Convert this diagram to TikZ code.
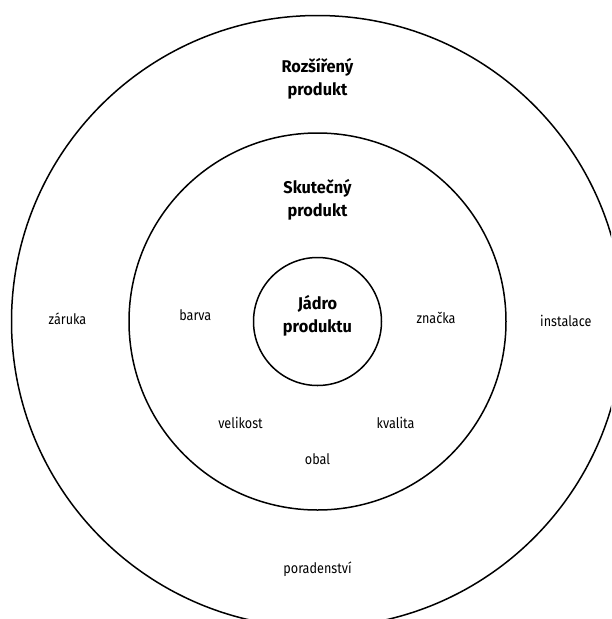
\documentclass[tikz,border=0pt]{standalone}
\usepackage{fontspec}
\setmainfont{Fira Sans}
\newfontfamily\condfont[FakeStretch=0.87]{Fira Sans}
\newfontfamily\ttlfont[FakeStretch=0.96]{Fira Sans}
\begin{document}
\begin{tikzpicture}[x=1pt,y=-1pt,
  ring/.style={draw=black,line width=1.5pt},
  lbl/.style={font=\condfont\fontsize{14.5}{17}\selectfont,anchor=base,inner sep=0pt,text=black},
  ttl/.style={font=\ttlfont\bfseries\fontsize{17}{22.5}\selectfont,align=center,inner sep=0pt}]
\useasboundingbox (0,0) rectangle (611,619);
\begin{scope}
\clip (0,0) rectangle (611,619);
\coordinate (c) at (317.5,321.5);
\draw[ring] (c) circle[radius=306];
\draw[ring] (c) circle[radius=188.5];
\draw[ring] (c) circle[radius=64];
\end{scope}
\node[ttl] (rozsireny) at (317.5,79) {Rozšířený\\produkt};
\node[ttl] (skutecny) at (317.5,200) {Skutečný\\produkt};
\node[ttl] (jadro) at (317.5,316) {Jádro\\produktu};
\node[lbl] (zaruka) at (67.5,324) {záruka};
\node[lbl] (barva) at (195.3,320) {barva};
\node[lbl] (znacka) at (436,323.3) {značka};
\node[lbl] (instalace) at (565.8,326) {instalace};
\node[lbl] (velikost) at (240.5,428.3) {velikost};
\node[lbl] (kvalita) at (395.5,428.3) {kvalita};
\node[lbl] (obal) at (317.5,464) {obal};
\node[lbl] (poradenstvi) at (317.5,573.3) {poradenství};
\end{tikzpicture}
\end{document}
